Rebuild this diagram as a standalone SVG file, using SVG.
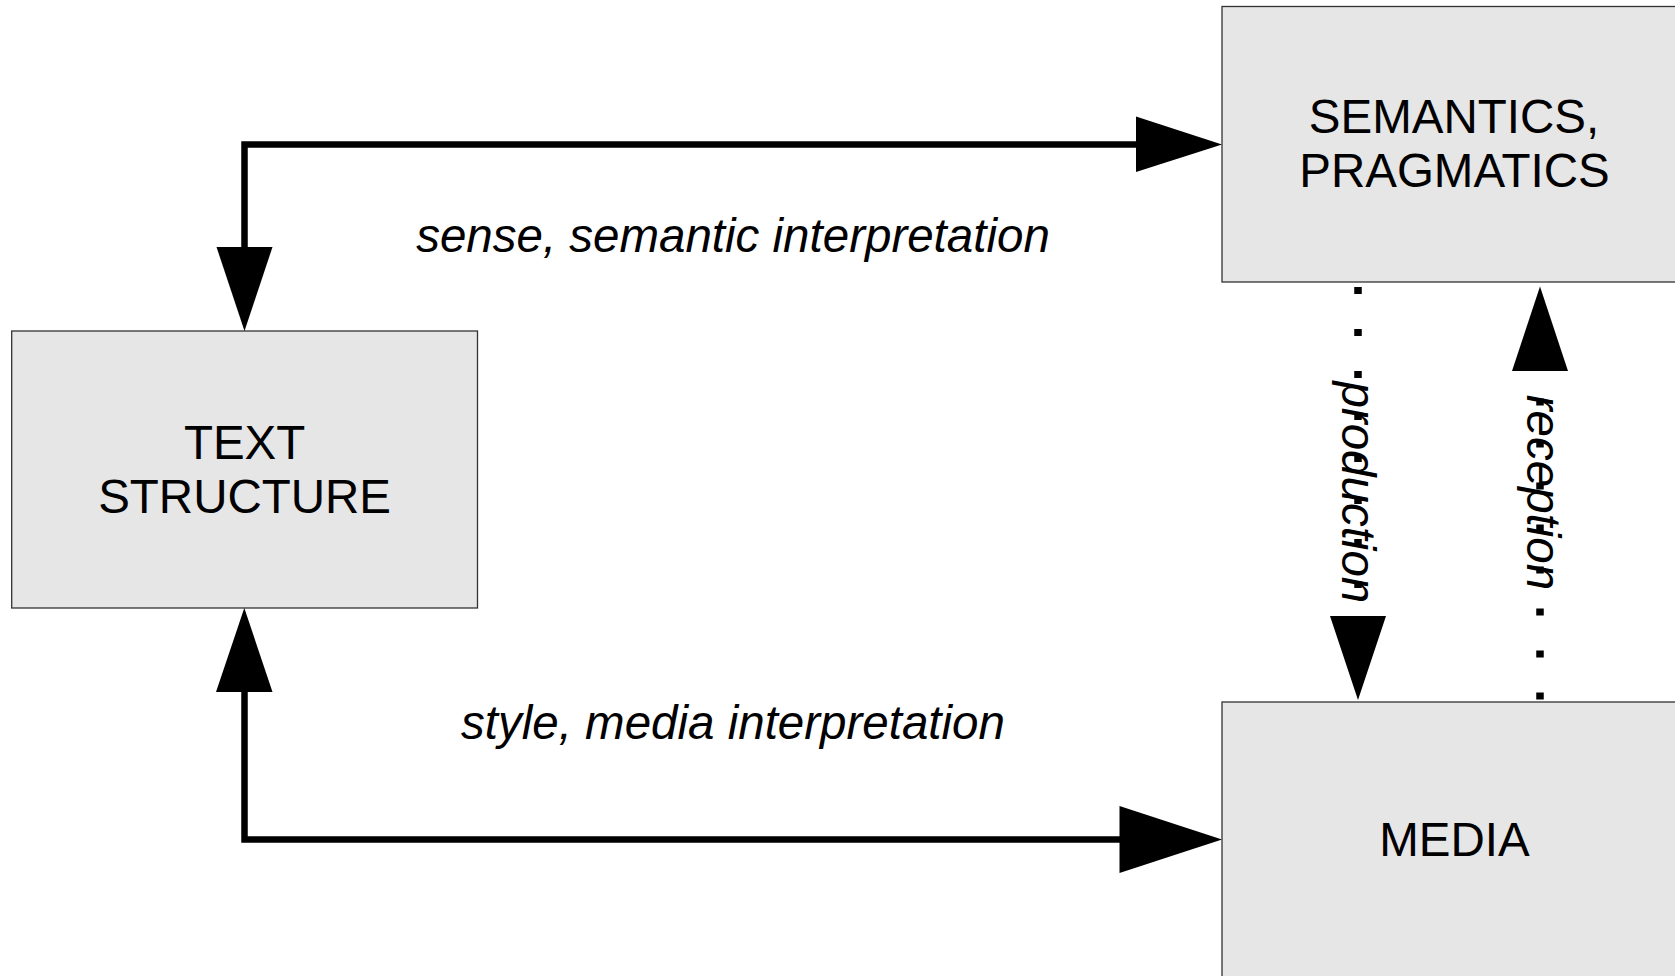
<svg xmlns="http://www.w3.org/2000/svg" width="1675" height="976" viewBox="0 0 1675 976">
<style>
.box{fill:#e6e6e6;stroke:#333333;stroke-width:1.3}
.t{font-family:"Liberation Sans",Arial,sans-serif;font-size:47.5px;fill:#000;text-anchor:middle}
.i{font-style:italic}
.ln{fill:none;stroke:#000;stroke-width:6.5;stroke-linejoin:miter}
.dot{fill:none;stroke:#000;stroke-width:7.5;stroke-dasharray:7 35}
.ah{fill:#000}
</style>
<rect width="1675" height="976" fill="#ffffff"/>
<g id="node-text-structure">
<rect class="box" x="11.7" y="331" width="465.8" height="277"/>
<text class="t" x="244.6" y="459.3">TEXT</text>
<text class="t" x="244.6" y="513.3">STRUCTURE</text>
</g>
<g id="node-semantics">
<rect class="box" x="1222" y="6.5" width="470" height="275.5"/>
<text class="t" x="1454" y="133.3">SEMANTICS,</text>
<text class="t" x="1454.5" y="187.3">PRAGMATICS</text>
</g>
<g id="node-media">
<rect class="box" x="1222" y="702" width="470" height="280"/>
<text class="t" x="1454.5" y="856">MEDIA</text>
</g>
<g id="connectors">
<path class="ln" d="M1137 144.5 H244.5 V248"/>
<polygon class="ah" points="1136,116.5 1136,172 1222,144.5"/>
<polygon class="ah" points="216.5,247 272.5,247 244.5,331"/>
<path class="ln" d="M244.5 691 V839.5 H1121"/>
<polygon class="ah" points="216,692 272.5,692 244.3,608"/>
<polygon class="ah" points="1119.5,806 1119.5,873 1222,839.5"/>
<line class="dot" x1="1358" y1="287" x2="1358" y2="616"/>
<polygon class="ah" points="1330,616 1386,616 1358,700"/>
<line class="dot" x1="1540" y1="699.5" x2="1540" y2="371"/>
<polygon class="ah" points="1512,371 1568,371 1540,286.5"/>
<text class="t i" x="733" y="251.7">sense, semantic interpretation</text>
<text class="t i" x="733" y="739.3">style, media interpretation</text>
<text class="t i" transform="translate(1342,492.3) rotate(90)">production</text>
<text class="t i" transform="translate(1527,492.5) rotate(90)">reception</text>
</g>
</svg>
